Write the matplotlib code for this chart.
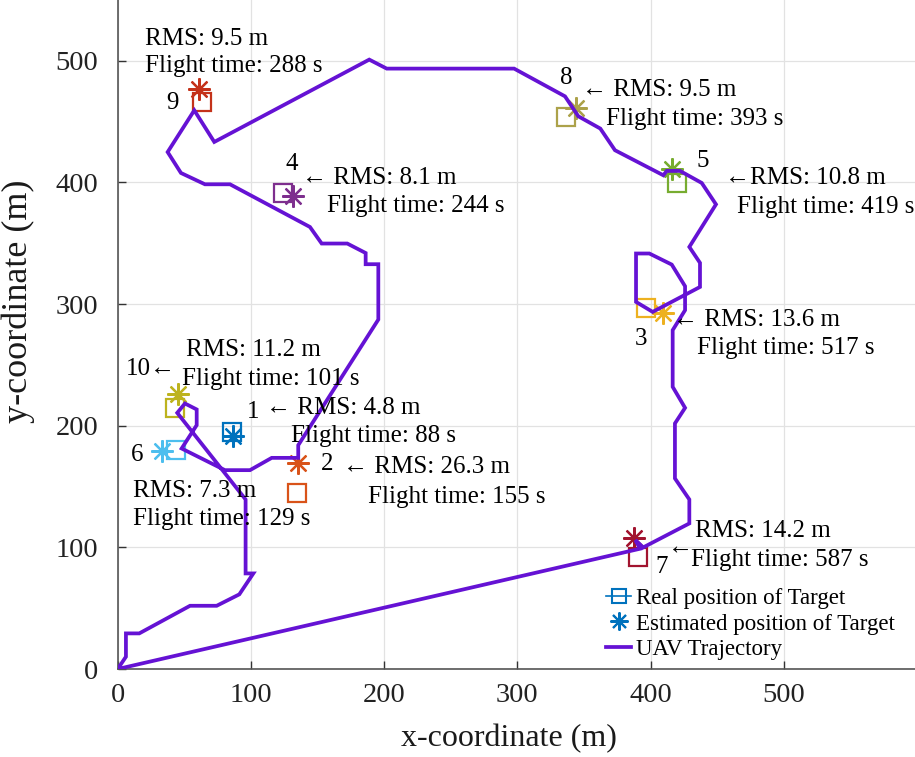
import matplotlib
matplotlib.use("Agg")
import matplotlib.pyplot as plt
from matplotlib.lines import Line2D

plt.rcParams['font.family'] = ['Liberation Serif', 'DejaVu Serif']

# UAV trajectory (m)
traj_x = [0, 6.2, 6.2, 16.2, 54.3, 74.3, 91.3, 101.8, 96, 96, 44.7, 50.5, 59.3, 59.3,
          48, 80.5, 99.3, 115.6, 135.5, 135.5, 195.6, 195.6, 186.1, 186.1, 172.3, 153.1,
          144.3, 84.3, 65.5, 47.5, 37.5, 57.5, 72.5, 188.8, 201.9, 297.5, 335.7, 345.7,
          362.2, 373.2, 409.5, 412, 422, 438.3, 449, 429, 437, 437, 401.5, 389, 389, 399,
          415.8, 425.8, 425.8, 416.5, 416.5, 425.8, 418.2, 418.2, 429, 429, 394.4, 388.5,
          392, 0]
traj_y = [0, 10.1, 29.3, 29.3, 52, 52, 61.4, 78.6, 78.6, 139.4, 210.6, 218.3, 213.4, 200.5,
          181.3, 163.5, 163.5, 173.6, 173.6, 184, 287.3, 332.8, 332.8, 342, 349.8, 349.8,
          363.4, 398.5, 398.5, 407.8, 425, 459.3, 433.3, 501, 493.6, 493.6, 470.8, 454.4,
          444.3, 426.5, 405.9, 409.5, 409.5, 399.6, 382, 347, 333.9, 314.1, 293.6, 301.8,
          341.6, 341.6, 332.5, 314.7, 295, 278.6, 232, 214.7, 201.9, 156.7, 139.4, 119.7,
          100, 106, 98.9, 0]

# Targets 1..10
target_ids = [1, 2, 3, 4, 5, 6, 7, 8, 9, 10]
real_x = [85.5, 134.8, 396.2, 124.3, 419.5, 43.8, 390.7, 336.4, 63.0, 43.0]
real_y = [195.0, 144.4, 297.2, 391.4, 399.6, 180.0, 92.3, 453.8, 466.2, 214.2]
est_x = [86.3, 135.5, 409.0, 131.8, 415.8, 33.0, 387.5, 343.9, 61.2, 45.5]
est_y = [191.5, 169.5, 292.3, 388.7, 411.4, 179.4, 107.4, 461.5, 477.2, 226.0]
target_colors = ['#0072BD', '#D95319', '#EDB120', '#7E2F8E', '#77AC30',
                 '#4DBEEE', '#A2142F', '#ACA24A', '#C4321A', '#BDB31E']

# Annotations: (text, x, y)
annotations = [
    ("RMS: 9.5 m", 20.5, 513.3), ("Flight time: 288 s", 20.5, 490.8), ("9", 36.6, 460.1),
    ("4", 126.3, 410.0), ("← RMS: 8.1 m", 138.1, 399.1), ("Flight time: 244 s", 156.8, 375.8),
    ("8", 331.9, 481.3), ("← RMS: 9.5 m", 348.2, 470.8), ("Flight time: 393 s", 366.5, 447.0),
    ("5", 434.5, 412.7), ("←RMS: 10.8 m", 455.8, 399.1), ("Flight time: 419 s", 465.0, 374.9),
    ("← RMS: 13.6 m", 416.5, 281.8), ("Flight time: 517 s", 435.0, 258.8), ("3", 388.2, 266.2),
    ("RMS: 11.2 m", 51.3, 257.2), ("10←", 6.2, 241.6), ("Flight time: 101 s", 48.0, 233.4),
    ("1", 96.8, 206.2), ("← RMS: 4.8 m", 111.1, 209.5), ("Flight time: 88 s", 129.8, 186.8),
    ("6", 9.8, 170.9), ("2", 152.3, 163.5), ("← RMS: 26.3 m", 169.3, 161.3),
    ("Flight time: 155 s", 188.1, 136.2), ("RMS: 7.3 m", 11.3, 141.6),
    ("Flight time: 129 s", 11.3, 118.3), ("RMS: 14.2 m", 433.2, 108.2), ("←", 412.8, 95.3),
    ("Flight time: 587 s", 430.0, 84.6), ("7", 403.2, 78.6),
]

xticks = [0, 100, 200, 300, 400, 500]
yticks = [0, 100, 200, 300, 400, 500]

fig = plt.figure(figsize=(9.15, 7.57), dpi=100)
ax = fig.add_axes([0.1286, 0.1162, 0.8738, 0.8838])
ax.set_xlim(0, 600)
ax.set_ylim(0, 550)

ax.grid(True, color='#e2e2e2', linewidth=0.9, zorder=0)
ax.set_axisbelow(True)

for i in range(len(target_ids)):
    ax.plot(real_x[i], real_y[i], marker='s', markersize=13, markerfacecolor='none',
            markeredgecolor=target_colors[i], markeredgewidth=1.6, linestyle='none', zorder=2)
    ax.plot(est_x[i], est_y[i], marker=(8, 2, 0), markersize=16,
            markeredgecolor=target_colors[i], color=target_colors[i],
            markeredgewidth=1.6, linestyle='none', zorder=2)

ax.plot(traj_x, traj_y, color='#6512D4', linewidth=2.7, zorder=3, solid_joinstyle='miter')

for txt, x, y in annotations:
    ax.text(x, y, txt, fontsize=18, color='black', va='baseline', ha='left', zorder=4)

ax.set_xticks(xticks)
ax.set_yticks(yticks)
ax.tick_params(axis='both', direction='in', length=6, width=1, colors='#333333',
               labelsize=20.5, top=False, right=False)
ax.tick_params(axis='y', pad=14)
ax.tick_params(axis='x', pad=10)
for t in ax.get_xticklabels() + ax.get_yticklabels():
    t.set_color('#222222')
for s in ['top', 'right']:
    ax.spines[s].set_visible(False)
for s in ['left', 'bottom']:
    ax.spines[s].set_color('#555555')
    ax.spines[s].set_linewidth(1.2)

ax.set_xlabel('x-coordinate (m)', fontsize=23, color='#1a1a1a')
ax.set_ylabel('y-coordinate (m)', fontsize=26, color='#1a1a1a')
ax.xaxis.set_label_coords(0.49, -0.082)
ax.yaxis.set_label_coords(-0.104, 0.55)

handles = [
    Line2D([0], [0], color='#0072BD', marker='s', markersize=10, markerfacecolor='none',
           markeredgewidth=1.5, linewidth=1.2),
    Line2D([0], [0], color='#0072BD', marker=(8, 2, 0), markersize=13,
           markeredgewidth=1.5, linestyle='none'),
    Line2D([0], [0], color='#6512D4', linewidth=2.7),
]
labels = ['Real position of Target', 'Estimated position of Target', 'UAV Trajectory']
ax.legend(handles, labels, loc='upper left', bbox_to_anchor=(0.611, 0.121), frameon=False,
          fontsize=16.5, borderpad=0, handlelength=1.1, handletextpad=0.2,
          labelspacing=0.19, borderaxespad=0)

fig.savefig('out.png', dpi=100)
